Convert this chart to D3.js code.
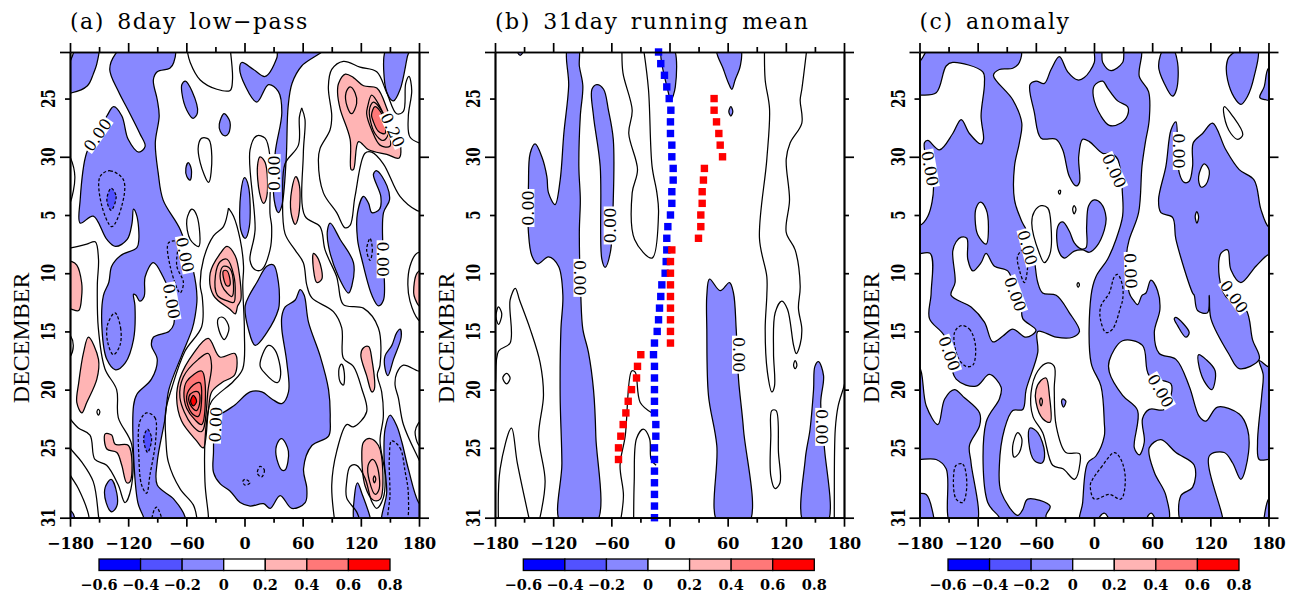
<!DOCTYPE html>
<html>
<head>
<meta charset="utf-8">
<script src="https://d3js.org/d3.v7.min.js"></script>
<style>
html, body { margin: 0; padding: 0; background: #fff; overflow: hidden; }
text { font-family: "DejaVu Serif", serif; fill: #000; }
</style>
</head>
<body>
<svg id="chart" width="1296" height="596"></svg>
<script>
//////////////////////////////////////////////////////////////
/////////////////////// Axis values //////////////////////////
//////////////////////////////////////////////////////////////

// x is longitude, y is days since 21 November (tick 31 = day 40)
var lonTicks = [-180, -120, -60, 0, 60, 120, 180];
var lonMinor = [-150, -90, -30, 30, 90, 150];
var dayMajor = [0, 9, 40];
var dayMinor = [4, 14, 19, 24, 29, 34];
var dayTicks = [4, 9, 14, 19, 24, 29, 34, 40];
var dayLabels = ["25", "30", "5", "10", "15", "20", "25", "31"];
var colorLevels = [-0.6, -0.4, -0.2, 0, 0.2, 0.4, 0.6, 0.8];
var colorBins = ["#0000ff", "#5252ff", "#8888ff", "#ffffff", "#ffb4b4", "#ff7878", "#ff0000"];
var titles = ["(a) 8day low\u2212pass", "(b) 31day running mean", "(c) anomaly"];

//////////////////////////////////////////////////////////////
/////////////////// Panel a contours [lon, day] //////////////
//////////////////////////////////////////////////////////////

var aBlue = [
  [[-186,0.9],[-181,0.9],[-172,-0.5],[-151,-0.5],[-152,0.9],[-156,1.9],[-162,2.9],[-178,3.5],[-186,3.5]],
  [[-133.4,0.2],[-123,-0.5],[-72.5,-0.5],[-73,0.9],[-77,1.4],[-90,1.7],[-94,2.4],[-90,4.1],[-88,5.5],[-92,7.8],[-89,10.4],[-84,12.7],[-66,15.3],[-53,18.7],[-49,21.1],[-51,22.7],[-54,23.8],[-65,26.1],[-78,29],[-82,31.5],[-90,35.2],[-90,37.2],[-73,38.4],[-61,40],[-61,40.5],[-104,40.5],[-104,40],[-110,38.7],[-114.5,30.4],[-111,29.4],[-96,28.1],[-90,26.4],[-96,25.2],[-94,24.5],[-78,24],[-73,23.4],[-77,20.7],[-84,19.3],[-94,18.1],[-102.5,19.3],[-103.5,21],[-108,21.4],[-112,20.9],[-114.5,20.8],[-113,21.8],[-114.5,24.7],[-123,26.7],[-133,27.3],[-142,26.4],[-147,23.8],[-145.5,20.9],[-140,19.8],[-137,18.4],[-128,17.5],[-111,16.8],[-109,16.1],[-111,14.1],[-114.5,13.5],[-116,14.7],[-121,16.1],[-133,16.7],[-142,16.1],[-156,14.1],[-169.5,14.7],[-169.5,12.7],[-163,8.7],[-152,7],[-142,5.5],[-135,4.7],[-126.5,5.5],[-120,7.5],[-109,8.6],[-102.5,8.1],[-108,7],[-120,5],[-130,3.4],[-139,1.5]],
  [[-64.6,2.8],[-61,2.5],[-54,3.4],[-48.5,5.2],[-53,5.7],[-59.5,5],[-64.6,3.5]],
  [[-26,6.2],[-21,5.3],[-15,6],[-16.5,7],[-20,7.2],[-25,6.8]],
  [[35,-0.3],[83,-0.3],[59,1.2],[49,2.7],[45,4.7],[43,9.2],[38.5,13.2],[35,13.8],[30.6,12.7],[31.6,8.7],[38.5,5.2],[35,3.4],[24.8,2.8],[12.7,4.3],[0.7,2.9],[-5,1.4],[-2.8,0.9],[9.3,1.5],[21.3,2.1],[33.4,0.5]],
  [[0,10.8],[4,11.5],[5,15],[0.7,16],[-3.8,15.3],[-3.8,12.1]],
  [[-58,9.5],[-54.8,10.1],[-56,11],[-59.5,10.7],[-60.5,10]],
  [[88.4,14.7],[98.7,16.1],[112.4,18.1],[110.7,20.1],[107.3,20.7],[97,19.3],[86.7,16.7],[85.6,15.3]],
  [[133,10.5],[136.5,10.2],[147,11.5],[149.6,12.7],[143.4,13.8],[142.7,17],[143.4,21.3],[138.2,21.8],[131.4,20.9],[121,17.8],[116.6,16.1],[116.6,13.8],[122.8,12.4],[128,13],[131.4,13.8],[139.3,13.5],[140.6,12.4]],
  [[146.8,-0.3],[170,-0.3],[168,0.4],[160.6,3.2],[153.7,4.2],[148.6,3.8],[144,2.1]],
  [[160.6,23.8],[161.6,24.5],[153.7,26.4],[147.9,27.8],[145,27.2],[145,26.1],[152,25.2],[157,24.1]],
  [[-30,30.8],[-32,34.4],[-32,36.1],[-25,37.1],[-15,37.7],[-4.5,38.7],[5.8,39],[19.6,38.8],[26.5,39.2],[36.8,38.1],[48.8,39.2],[62.6,38.7],[64.3,37.5],[60.9,35.8],[69.5,33.8],[86.7,33],[88.4,31.5],[86.7,29],[78,26.1],[66,23.2],[61.6,20.9],[57.4,20.4],[52.3,21.3],[42,21.9],[38.5,22.7],[38.5,23.8],[43.7,26.7],[45.4,29.2],[38.5,30.2],[28.2,29.8],[17.9,29.2],[5.8,29.2],[-11.3,30.4],[-26.8,31.1]],
  [[30,18.3],[35,19.8],[36,21.3],[35,22.1],[23,24.1],[11,25.2],[4,23.8],[0.7,21.8],[5,20.9],[12.7,19.8],[23,18.4]],
  [[-137.6,36.7],[-131.7,37.9],[-131.7,39],[-136.9,39.5],[-142.7,38.7],[-143.7,37.4]],
  [[116.6,37],[121,37.9],[129.6,40],[130,40.6],[114.5,40.6],[113.5,38.1]],
  [[150.1,31.2],[157,32.1],[162.3,33.5],[169,35.8],[180.5,38.8],[186,39],[186,40.6],[143,40.6],[146.7,37.8],[144,34.9],[145,32.4]],
  [[-186,39.4],[-178,39.5],[-175,40.6],[-186,40.6]]
];
var aBlueDark = [
  [[-137.6,11.7],[-132.4,12.4],[-137.6,13.6],[-142,12.7]],
  [[-100,32.4],[-95.8,33.2],[-100,34.4],[-104,33.2]]
];
var aPink = [
  [[97,2.7],[104,1.9],[112.4,2.2],[122.8,2.9],[136.5,3.1],[148.6,5.2],[158.9,7],[159.6,9.1],[146.8,8.8],[128,8.4],[117.6,7.7],[112.4,10.1],[110,10.1],[109,7.5],[98.7,4.9],[96,3.5]],
  [[16,9],[21.3,9.5],[23,12.4],[19.6,13],[15.5,12.1],[13.4,9.8]],
  [[53,10.7],[56.7,11.5],[55.7,14.1],[52.3,14.8],[48,13.8],[48.8,11.8]],
  [[71.2,17.3],[76.3,17.8],[79.8,19.5],[74.6,19.8],[71.2,18.7]],
  [[-25,17.3],[-18,16.7],[-9.6,17.5],[-5,19.3],[-3.8,21.3],[-7,21.8],[-9.6,22.5],[-15,22.1],[-32,20.9],[-35.4,19]],
  [[-186,18],[-178,18],[-173,18.3],[-168,19.8],[-168,21],[-171,22.2],[-178,22.1],[-186,21.8]],
  [[186,18.6],[178,19],[174.5,20.7],[176,21.2],[180,21.8],[186,22]],
  [[-161,24.5],[-150.6,26.4],[-152.3,28.1],[-162.7,30.1],[-167.8,31],[-173,30.1],[-171,28.4],[-166,25.8]],
  [[-143.7,32.8],[-137,32.9],[-133.4,33.7],[-119.7,33.8],[-118,36.9],[-121.5,37],[-126.6,35.5],[-131.7,34.4],[-142,34.1]],
  [[128,25.3],[122.8,25.4],[120,26],[126,27.8],[131.4,29.2],[133.8,29],[131.4,26.4]],
  [[-37.4,24.6],[-25.3,26.2],[-9.9,25.9],[-9.9,27.7],[-23.6,28.4],[-33.9,29.2],[-37.4,30.9],[-42.5,34],[-49.4,33.4],[-64.9,31.7],[-70,29.7],[-66.6,28],[-52.8,25.9]],
  [[129.6,33.2],[138.2,33.8],[142.7,36.1],[140,38.4],[133,38.5],[124.5,37.3],[121,34.4],[122.8,33.5]]
];
var aPinkDark = [
  [[131,5.4],[134.6,4.7],[141.5,5.3],[145,7],[138,6.8],[133,6]],
  [[-21.7,18.8],[-18,18.8],[-15,20],[-18,20.1],[-21.7,19.4]],
  [[-59.7,28.3],[-44.2,27.4],[-40.8,28.3],[-44.2,32],[-51,31.6],[-59.7,30.6],[-62.5,29.3]]
];
var aRed = [
  [[-52.8,29.5],[-49.4,30],[-52.8,30.4],[-55.6,30]]
];
var aHoles = [
  [[38.4,33.2],[45.3,34.3],[41.8,35.9],[38.4,35.9],[32.5,34.6],[33.9,33.6]]
];
var aLines = [
  [[-59.5,-0.3],[-56,0.9],[-45.7,2.4],[-28.5,3.2],[-14.8,3.3],[-12.4,2.4],[-14.8,-0.3]],
  [[183,7.9],[170.7,7.3],[169,5.5],[172.5,3.3],[169.7,2.1],[166.3,2.7],[163.9,5.1],[157,5.3],[146.7,3.5],[136.4,1.7],[119.2,1.3],[102,0.8],[90,1.5],[86.5,3],[90,5.5],[88.2,6.7],[77.9,8.3],[76.2,9.3],[81.4,12.1],[95.1,13.8],[103.7,15.1],[108.9,14.9],[114,12.4],[124.3,8.7],[131.2,8.6],[143.2,9.6],[160.4,12.4],[177.6,13.6],[183,13.7]],
  [[59,4.8],[56.6,5.6],[55.6,8],[41.8,9.6],[39.4,12.1],[41.8,15.6],[52.1,17],[60.7,18.1],[64.2,20],[69.3,21.1],[91.7,22.3],[100.3,23.7],[102,26.3],[112.3,27],[120.9,28.9],[126,30.9],[112.3,32.2],[105.4,32],[95.1,34.3],[90,37.2],[93.4,40.5]],
  [[59,4.8],[62.4,5.8],[60.7,8.7],[62.4,14.1],[77.9,15],[83.1,17],[95.1,19.3],[96.8,20],[102,21.7],[122.6,22],[138.1,23.7],[139.8,26.9],[137,27.7],[141.5,29.2],[143.2,31.3],[139.8,33.4],[145,36.3],[143.2,38.3],[136.4,39.2],[131.2,38.6],[124.3,36.6],[115.7,35.5],[108.9,35.6],[105.4,36.9],[105.4,38.3],[115.7,39.5],[119.9,40.5]],
  [[186,27.4],[179.3,27.4],[163.9,26.9],[157,27.6],[155.3,28.6],[158.7,29.7],[163.9,32],[179.3,34.9],[186,36]],
  [[186,17.2],[177.6,17.3],[170.7,18.4],[168.5,20],[170.7,21.4],[179.3,23],[186,23.3]],
  [[-180,31.5],[-171.4,32.3],[-159.4,32.9],[-154.3,35],[-142.2,35.5],[-130.2,37.2],[-123.3,38.7],[-117.1,37.5],[-116.4,33.7],[-130.2,31.4],[-131.9,29],[-144,27.2],[-150.8,23.7],[-151.8,20],[-150.6,17.8],[-154,16.3],[-162.7,16.5],[-178,16.8],[-186,16.9]],
  [[-186,33],[-180,34],[-168,35.2],[-156,36.9],[-150.8,39.7],[-150,40.5]],
  [[-186,35],[-180,36.3],[-171.4,37.5],[-161,39.7],[-160,40.5]],
  [[-16.5,13.4],[-11.3,14.1],[-4.5,16.1],[-1,18.4],[-1.8,20],[-0.1,24],[-1.8,27.2],[-11.6,28.3],[-33.9,30],[-39,31.7],[-40.8,36.9],[-37.4,39.7],[-37,40.5]],
  [[-16.5,13.4],[-21.7,15],[-32,15.8],[-42.3,17.8],[-45.7,20],[-43.5,21.1],[-44.2,23.6],[-61.4,25.7],[-75.2,28.9],[-81.4,30.9],[-81,33.4],[-78.6,35.2],[-66.6,37.5],[-52.8,38.9],[-49.4,39.9],[-49,40.5]],
  [[-184,24],[-180,24.3],[-176.6,25.2],[-180,26.2],[-184,26.5]],
  [[-184,8.5],[-180,9],[-175,10.7],[-180,13],[-184,13.5]],
  [[184,31.5],[179.3,31.9],[176,32.6],[179.3,33.7],[184,34]]
];
var aLoops = [
  [[-44,7.4],[-37,7.5],[-33.7,9],[-37,11.2],[-45.7,9.5],[-47.5,8]],
  [[-54.3,13.5],[-49,14.1],[-47.2,16.7],[-56,16.1],[-59.5,14.4]],
  [[12.7,7.2],[21.2,7.4],[26.3,9],[26.3,13.9],[28,15],[26.3,17],[17.7,18.7],[10.9,18.7],[5.7,17.9],[10.9,15.3],[5.7,8.4]],
  [[104.7,3.5],[108.9,3],[114,3.5],[115.7,4.4],[110.6,5.3],[106,4.7]],
  [[127,4.7],[131.2,3.7],[139.8,4.7],[146.7,6.1],[150,8.1],[139.8,8],[131.2,6.7],[126,5.3]],
  [[128.8,5],[132.9,4.3],[143.2,5.3],[148.4,7],[143.2,7.6],[134.6,7]],
  [[-30,19.2],[-25,18],[-18,17.8],[-11,19.2],[-9.6,20.7],[-11,21.5],[-17,21.4],[-28,20.9]],
  [[-25,19],[-21.7,18.4],[-15,18.6],[-11.3,20.1],[-13,21],[-18,20.7],[-23,20.1]],
  [[-37.4,25.9],[-34,26.9],[-37.4,28.9],[-44.2,32.6],[-54.6,32],[-66.6,29.7],[-63,27.9],[-47.7,26.4]],
  [[-52.8,28.6],[-46,28.4],[-44.2,29.7],[-47.7,31.3],[-54.6,31],[-59.7,29.6]],
  [[-52.8,29.2],[-47.7,29.2],[-46,30],[-49.4,30.8],[-55.2,30.4],[-57.3,29.6]],
  [[16,26.9],[24.6,25.2],[31.5,25.6],[37.3,27.7],[33.9,28.4],[21.2,27.6]],
  [[100.3,26.8],[103,27.6],[102,28.6],[98.5,28.3],[97.5,27.2]],
  [[-27,22.9],[-21.9,22.8],[-16,23.7],[-20.9,24.7],[-26.3,23.9]],
  [[-150.8,30.7],[-149.2,30.9],[-150.8,31.2],[-152.2,30.9]],
  [[132,35],[136.5,35.5],[139,37.5],[135,38],[129,36.9],[127.5,35.5]],
  [[134,36.4],[135.4,36.7],[134,37],[132.8,36.7]]
];
var aDashed = [
  [[-149,10.7],[-138.7,10.2],[-124.8,11],[-126.5,13.2],[-136.9,15],[-147.2,13.2]],
  [[-78.4,16.4],[-69.8,16.3],[-69.8,18.4],[-63,19.8],[-66.4,20.7],[-76.7,18.4]],
  [[129.5,16],[131.9,17],[129.5,17.9],[126,17]],
  [[-133.6,22.4],[-127.8,23.7],[-128.5,25.2],[-135.3,26],[-141.2,24.9],[-141.2,23.4]],
  [[-101,31],[-92.4,31.4],[-91.7,33.4],[-97.5,36.3],[-101,37.9],[-106.1,37.2],[-108.9,34.9],[-107.8,31.7]],
  [[-90.6,39.1],[-85.5,40],[-84,40.6],[-95,40.6],[-93,39.3]],
  [[0.6,36.7],[5.7,37],[0.6,37.2],[-1.8,36.9]],
  [[16,35.6],[20.5,35.9],[17.7,36.5],[13.3,36.2]],
  [[151.8,33.4],[160.4,34],[165.6,36],[169,38],[165.6,40.6],[149.4,40.6],[150.1,38],[149.4,34.9]]
];
var aLabels = [
  [-151.7, 7.1, -55, "0.00"], [30.6, 10.4, -90, "0.00"], [-61.2, 17.4, 78, "0.00"],
  [-75, 21.4, 80, "0.00"], [143, 17.8, 90, "0.00"], [153, 6.7, 65, "0.20"], [-30, 32, -87, "0.00"]
];

//////////////////////////////////////////////////////////////
/////////////////// Panel b contours [lon, day] //////////////
//////////////////////////////////////////////////////////////

var bBlue = [
  [[-158,-0.3],[-154,0.3],[-150,-0.3]],
  [[-105,-0.3],[-94,-0.3],[-93,1.2],[-89.4,2.9],[-92,5.5],[-93.5,9.8],[-92,12.7],[-93,15.5],[-91.5,20.9],[-89.4,23.8],[-83.6,25.8],[-78.4,29],[-76,33],[-76,40.5],[-111.8,40.5],[-111,35.3],[-112.8,29.5],[-112,23.8],[-110,20.9],[-114.5,18.4],[-124.8,17.6],[-136,18.2],[-142,17.5],[-145.5,15.5],[-145.5,11.5],[-143.7,8.7],[-138.6,7.9],[-131.7,9],[-126.5,10.7],[-124.8,12.1],[-118,13.1],[-112.8,11],[-109,7],[-104,2.9]],
  [[-80,3.2],[-75,2.8],[-68,3.2],[-63,5],[-58,7.5],[-58,12.7],[-61,17.2],[-66.4,18.5],[-69.8,17.8],[-71.5,9.8],[-78.4,5.5]],
  [[-8,-0.3],[4,-0.3],[6,3],[1.5,4.1],[-2,3.2]],
  [[48.8,-0.3],[73,-0.3],[73,1.2],[67.7,2.4],[64.3,3.2],[61,2.7],[55.7,1.5]],
  [[63.3,4.7],[65.3,5.1],[63.3,5.5],[61.2,5.1]],
  [[41.3,19.5],[52.3,20.5],[61.9,19.8],[66,20.7],[68.8,23.8],[71.2,28.1],[76.3,32.4],[81.5,40.5],[50.5,40.5],[48.8,33.8],[40.2,29.5],[38.5,23.8],[38.5,20.9]],
  [[153.7,26.6],[158.9,27.8],[156,30.1],[159.6,33.8],[162.3,40.5],[139,40.5],[140,35],[145,32.4],[148.6,29],[150,27]]
];
var bLines = [
  [[-49,-0.3],[-48,1.8],[-38.5,5],[-42,7],[-33,10.1],[-38.5,12.1],[-36,16.1],[-18,17.7],[-11.3,13.8],[-13,12.1],[-18,9.8],[-21.7,3.2],[-26.8,-0.3]],
  [[141.7,-0.3],[136.5,3.2],[134.8,4.1],[136.5,6.1],[124.5,7.8],[120.4,9.2],[123.8,12.7],[120.4,15.5],[129.6,17],[134.8,20.1],[133,22],[136.5,23.8],[134.8,25.1],[130.7,25.9],[128,25.2],[121.7,22.1],[115.9,21.4],[109,22.4],[107.3,25.8],[108.3,28.7],[105.6,29.2],[101,27.5],[98.7,23.8],[100.4,20.9],[100.4,19.3],[92.8,16],[100.4,9.2],[103.2,4.9],[98.7,2.4],[98,-0.3]],
  [[170,40.5],[170,38.7],[171,32.4],[174,30.4],[180,28.7],[183,27.5]],
  [[-182,29],[-180,28.7],[-176.4,25.7],[-164.4,25],[-164.4,21.3],[-159,20.3],[-154.7,21.3],[-143.7,23.8],[-133.4,26.7],[-130,29.5],[-135,33],[-128.3,36.9],[-135,40.5]],
  [[-176.4,40.5],[-174.7,35.8],[-163,32.3],[-157,35.3],[-143.7,40.5]],
  [[-51,40.5],[-47.5,38.1],[-51,35.5],[-45.7,33],[-39,27.4],[-35.4,27.5],[-30.2,30.1],[-18,31]],
  [[-37,40.5],[-36.4,36.9],[-34,33.2],[-27,32.4],[-20.6,33.2],[-18.9,35],[-13.8,35.5]]
];
var bLoops = [
  [[105.5,30.8],[110,30.8],[112.4,34.4],[114,37],[109,37.5],[104.5,36.4],[104.5,33]],
  [[129.6,26.5],[131.4,26.9],[129.6,27.2],[128,26.9]],
  [[-176.4,21.9],[-173,22.5],[-176.4,23.4],[-179,22.7]],
  [[-168,27.6],[-164.4,28],[-168,28.5],[-172,28]]
];
var bLabels = [
  [-146, 13.4, -90, "0.00"], [-61.2, 14.9, -90, "0.00"], [-92.4, 19.4, 90, "0.00"],
  [71.2, 26, 90, "0.00"], [157, 32.2, 90, "0.00"]
];
// daily position of the two tracks in panel b
var blueDay = [0,1,2,3,4,5,6,7,8,9,10,11,12,13,14,15,16,17,18,19,20,21,22,23,24,25,26,27,28,29,30,31,32,33,34,35,36,37,38,39,40];
var blueLon = [-11.3,-9,-5.2,-2.8,-0.3,1.4,1,1,2.4,2.4,3.8,3.8,2.4,2.4,1,-1.7,-2.8,-2.8,-3.4,-4.5,-7.9,-9,-10.3,-11.3,-12.7,-15.5,-16.5,-15.5,-15.5,-15.5,-15.5,-15.5,-14.1,-14.1,-15.5,-15.5,-15.5,-15.5,-15.5,-15.5,-15.5];
var redDay = [4,5,6,7,8,9,10,11,12,13,14,15,16,17,18,19,20,21,22,23,24,25,26,27,28,29,30,31,32,33,34,35];
var redLon = [46,46,48.5,50.9,52.3,54.7,36,35,33.7,33.7,32.3,32.3,29.9,2.4,1,1,1,1,1,1,1,1,-29.6,-33,-34,-39.2,-42.6,-45,-47.8,-50.2,-52.6,-52.6];

//////////////////////////////////////////////////////////////
/////////////////// Panel c contours [lon, day] //////////////
//////////////////////////////////////////////////////////////

var cBlue = [
  [[-186,3.7],[-180,3.7],[-162.8,3.5],[-152.5,1.2],[-145.7,0.9],[-114.7,1.7],[-113,2.7],[-116.5,5.5],[-114,7.5],[-116.5,7.9],[-128.5,7],[-137,5.8],[-145.7,7],[-159.4,8.4],[-171.4,7.6],[-174.9,7.8],[-171.4,9.8],[-165.6,11.5],[-171.4,14.1],[-180,14.9],[-186,14.9],[-186,17.3],[-169,17.3],[-168,20.7],[-169.7,22.9],[-154.2,24.4],[-142.2,28.1],[-121.6,28.7],[-107.9,27.7],[-95.8,28.8],[-97.6,29.8],[-111.3,31.8],[-109.6,38.7],[-97.6,40],[-97.6,40.6],[-49.5,40.6],[-49.5,39.8],[-45.3,39],[-68.4,38.4],[-73.5,39.3],[-78.7,39.8],[-95.8,37.8],[-97.6,35.5],[-92.4,32.4],[-83.8,30.8],[-73.5,30.7],[-70,29],[-58,25.8],[-58,24],[-39,24.5],[-22,24.5],[-15,24],[-25.4,22.4],[-39,20.9],[-53,20.7],[-58,19.8],[-61.5,17.8],[-65,16.1],[-75.2,14.4],[-82,12.7],[-82,9.8],[-77,7.8],[-74.5,6.1],[-83.8,4.1],[-103.7,2],[-97.6,1.5],[-83.8,1.4],[-77,0.9],[-76.3,-0.3],[-171.4,-0.3],[-174.9,0.2],[-180,0.8],[-186,0.8]],
  [[-66,2.8],[-59.8,2.5],[-51.2,2.7],[-44.3,1.5],[-35.7,0.4],[-27.1,1.7],[-16.8,2.4],[-10,2.2],[0.3,0.9],[1,-0.3],[7.2,-0.3],[9,0.9],[17.5,1.6],[29.5,0.9],[32.3,-0.3],[48.4,-0.3],[46.7,2.1],[56.3,3.4],[57,5.8],[52.9,7.8],[49.5,9.8],[46,13.8],[36.4,16.1],[33.7,17.3],[36.4,20.7],[40.5,21.3],[45,21.7],[49.5,20.9],[53.6,20.7],[58.7,19.6],[65.6,20.5],[68,22.1],[62.2,24.1],[67.3,25.9],[84.5,26.4],[98.2,28.7],[108.6,31.3],[115.4,31.7],[127.4,30.5],[149.8,31.1],[158.4,32.4],[159.4,34.4],[151.5,36.7],[143,35.3],[134.3,34.4],[118.9,34.7],[132.6,40],[132.6,40.6],[91.4,40.6],[89.7,38.1],[101.7,37.4],[103.4,35.5],[84.5,34.4],[69,33.3],[57,34],[62.2,36.1],[74.2,38.1],[74.9,40.6],[-13.4,40.6],[-11.7,38.7],[-6.5,35.3],[2,34.7],[10.6,33],[10.6,31.8],[7.2,28.7],[-3,26.7],[-3,20.9],[2,19.3],[14,17.8],[22.7,16.1],[29.5,14.1],[29.5,12.4],[24.4,9.2],[17.5,8.7],[9,8.7],[-4.8,7.7],[-11.7,7.5],[-15.8,9],[-15,11.2],[-18.6,11.5],[-25.4,10.7],[-32.3,8.4],[-39.2,7.5],[-54.6,7.4],[-61.5,5.2]],
  [[84.5,6],[86.2,8.4],[88,10.4],[93,11.2],[98.2,11.1],[101.7,9.8],[102.4,7.8],[112,7],[122.3,6.1],[136,8.4],[149.8,10.1],[165.2,11],[172.1,13.5],[180,15],[186,15],[186,17.4],[180,17.4],[167,18.4],[151.5,19.8],[141.2,18.7],[137.8,17],[130.9,17.3],[129.2,19.3],[136,21],[156.6,22.1],[163.5,24.7],[170.4,26.4],[149.8,27.2],[139.5,26],[120.6,22.9],[118.9,20.9],[117.1,22.4],[106.8,22.2],[103.4,20.9],[101.7,20.7],[84.5,16.1],[81,14.2],[69,13.8],[66.6,12.7],[74.2,9.8],[79.4,6.7]],
  [[72.5,-0.3],[81,-0.3],[86.2,0.9],[85.2,3.2],[81,3.8],[72.5,2.7],[66.6,1.2]],
  [[139.5,0.4],[153.5,-0.3],[168.7,-0.3],[165.2,2.1],[158.4,3.8],[151.5,4.5],[144.6,3.9],[137.8,2.4],[136.7,1.1]],
  [[186,1.4],[180,1.4],[175.5,3],[171,3.9],[176.6,4.1],[186,4.1]],
  [[170.4,26.5],[179,27],[186,27.2],[186,35],[180,35],[170.4,35],[168.7,33.5],[173,29.5],[174.5,27.7]],
  [[186,38],[180,38.4],[175.5,40],[175,40.6],[186,40.6]],
  [[-186,37.9],[-180,37.9],[-173,38],[-167,39.3],[-166,40.6],[-186,40.6]],
  [[-186,27.1],[-180,27.1],[-173,30.4],[-161,32],[-154,29.8],[-144,29],[-133.6,29.7],[-118,31],[-118,32.1],[-128.5,33.8],[-126.8,35.3],[-121.6,40.6],[-147.4,40.6],[-152.5,35.8],[-162.8,35],[-180,35],[-186,35]],
  [[-66,32.3],[-58,32.7],[-51,34.4],[-53.6,35.3],[-61.5,35.1],[-67.3,33.5]],
  [[-37.4,15],[-32.3,14.6],[-25.4,15.4],[-20.3,16.4],[-13.4,16.9],[-8.2,16.8],[-7.6,15],[-5.5,13.2],[0.3,12.7],[7.2,13],[12.4,14.2],[10.6,15.3],[2.7,16.7],[-4.8,17.2],[-11.7,17],[-20.3,17.1],[-30.6,17.7],[-36.4,17.1]],
  [[84.5,22.8],[98.2,24.1],[94.8,24.5],[86.2,23.5],[82.8,22.9]],
  [[107.9,26],[115.4,26.4],[125,27.4],[121.6,29],[115.4,28.5],[108.6,27.1]],
  [[-32,29.8],[-29,30],[-31.5,30.5],[-33.5,30]]
];
var cHoles = [
  [[-145.7,17.1],[-142.2,16.3],[-137,15.9],[-131.2,16],[-130.2,17.8],[-125,18.8],[-116.5,18.1],[-111.3,17.3],[-102.7,18.4],[-89,18.8],[-80.4,20.7],[-75.2,21.8],[-73.5,22.9],[-59.8,23.9],[-70,24.5],[-83.8,23.8],[-94,24.4],[-104.4,24.9],[-113,23.2],[-126.8,21.9],[-147.4,20.9],[-143.3,19.8]],
  [[-117,12.9],[-111.3,13.5],[-108.9,15],[-111.3,16.5],[-119.9,15.7],[-122.6,14.4],[-121.6,13.4]],
  [[9,2.5],[14,3.1],[24.4,4.2],[34.7,4.7],[34.7,5.4],[27.8,6.1],[15.8,6.3],[7.2,5.5],[-0.7,3.8],[0.3,2.9]],
  [[15.8,26.5],[29.5,24.8],[50,25.2],[57,27.8],[79.4,28.5],[79.4,29.5],[72.5,30.7],[57,30.7],[50,31.5],[51.9,33.5],[46.7,34.6],[41.6,34],[45,30.8],[29.5,29.5],[15.8,27.5]],
  [[113.7,9.6],[118.9,10.2],[115.4,11.4],[110.3,11.6],[107.9,10.7]],
  [[106.1,13.7],[107.9,14.2],[106.1,14.7],[104.4,14.1]],
  [[53.6,40.8],[56,39.8],[59,39.6],[62,39.9],[64,40.8]],
  [[2,40.8],[6,39.9],[10.6,39.6],[14,39.9],[16,40.8]]
];
var cPink = [
  [[-54.6,28.2],[-49.5,28],[-46,29.5],[-45.3,31.8],[-52.9,31.5],[-59.8,30.1],[-59.8,29]]
];
var cLoops = [
  [[-47.7,26.7],[-41,27],[-41,29],[-39,32.1],[-29,34.4],[-15,34.5],[-14.4,35.3],[-20,36.7],[-32,35.8],[-42.6,35.5],[-52.9,32.7],[-63,31.3],[-65,29.3],[-58,27.4]],
  [[-54.6,13.2],[-47.7,13.4],[-44.3,15],[-45.3,17.3],[-51.2,18.1],[-56.3,17.3],[-64.2,14.7],[-61.5,13.7]],
  [[134.3,4.7],[143,5.5],[153.5,7.1],[148.4,7.5],[141.2,7],[134.3,5.5]],
  [[-83.8,33.8],[-78.7,32.7],[-74.5,33.2],[-77,34.4],[-82.5,34.8]],
  [[-54.6,29.7],[-53.2,30],[-54.6,30.4],[-56,30]],
  [[-36,11.9],[-34.5,11.9],[-35.2,12.2],[-36.6,12.1]],
  [[-20.5,13.2],[-18.6,13.5],[-20.5,13.9],[-22,13.5]],
  [[-16.3,19.8],[-15,20],[-16.3,20.2],[-17.5,20]]
];
var cDashed = [
  [[24.4,19.1],[29.5,20.1],[29.5,21.3],[27.8,21.8],[19.2,23.8],[12.4,24.1],[6.5,22.9],[7.2,21.8],[15.8,20.7],[21,19.3]],
  [[-137,23.5],[-128.5,23.8],[-122.3,25.2],[-125,26.9],[-131.9,27],[-140.5,26.2],[-143.9,24.1]],
  [[-142.2,35.5],[-135.4,35.4],[-131.2,37.2],[-135.4,38.7],[-142.2,38.4],[-145,36.7]],
  [[-1.4,36.7],[7.2,35.7],[21,34.4],[27.8,35],[32.3,36.7],[27.8,38.4],[15.8,38],[0.3,38.4],[-3.8,37.2]],
  [[-78.7,17.5],[-70,16.8],[-68.4,18.4],[-71.8,19.8],[-77,18.7]]
];
var cLabels = [
  [-169, 10, 80, "0.00"], [21, 10.2, 65, "0.00"], [88, 8.5, 90, "0.00"], [38, 18.8, 88, "0.00"],
  [-68.4, 16.8, 75, "0.00"], [-81, 20.8, 70, "0.00"], [-149, 25.9, 70, "0.00"],
  [69, 29.1, 60, "0.00"], [144.6, 21, 55, "0.00"]
];

//////////////////////////////////////////////////////////////
//////////////////////// Scales //////////////////////////////
//////////////////////////////////////////////////////////////

var panelWidth = 349;
var panelTop = 52;
var panelBottom = 517.7;
var panelLeft = [70, 495, 919.5];
var barLeft = [99, 523.3, 948];
var barWidth = 291;

var xScale = d3.scaleLinear().domain([-180, 180]).range([0, panelWidth]);
var yScale = d3.scaleLinear().domain([0, 40]).range([0, panelBottom - panelTop]);
var barScale = d3.scaleLinear().domain([-0.6, 0.8]).range([0, barWidth]);

var closedLine = d3.line()
    .x(function(d) { return xScale(d[0]); })
    .y(function(d) { return yScale(d[1]); })
    .curve(d3.curveCatmullRomClosed.alpha(0.5));

var openLine = d3.line()
    .x(function(d) { return xScale(d[0]); })
    .y(function(d) { return yScale(d[1]); })
    .curve(d3.curveCatmullRom.alpha(0.5));

var svg = d3.select("#chart");

svg.append("defs").append("clipPath")
    .attr("id", "clipPanel")
    .append("rect")
        .attr("width", panelWidth)
        .attr("height", panelBottom - panelTop);

//////////////////////////////////////////////////////////////
//////////////////////// Panels //////////////////////////////
//////////////////////////////////////////////////////////////

function drawRings(parent, rings, fill, dash) {
    parent.selectAll(null)
        .data(rings).enter()
        .append("path")
            .attr("d", closedLine)
            .attr("fill", fill)
            .attr("stroke", "#000")
            .attr("stroke-width", 1.25)
            .attr("stroke-dasharray", dash || null);
}

function drawPanel(i, layers) {
    var panel = svg.append("g")
        .attr("transform", "translate(" + panelLeft[i] + "," + panelTop + ")");

    var inner = panel.append("g").attr("clip-path", "url(#clipPanel)");

    drawRings(inner, layers.blue || [], colorBins[2]);
    drawRings(inner, layers.blueDark || [], colorBins[1], "3,2");
    drawRings(inner, layers.holes || [], "#fff");
    drawRings(inner, layers.pink || [], colorBins[4]);
    drawRings(inner, layers.pinkDark || [], colorBins[5]);
    drawRings(inner, layers.red || [], colorBins[6]);

    inner.selectAll(".contourLine")
        .data(layers.lines || []).enter()
        .append("path")
            .attr("d", openLine)
            .attr("fill", "none")
            .attr("stroke", "#000")
            .attr("stroke-width", 1.25);

    drawRings(inner, layers.loops || [], "none");
    drawRings(inner, layers.dashed || [], "none", "3,2");

    //Contour labels sit on a white box
    var labels = inner.selectAll(".contourLabel")
        .data(layers.labels || []).enter()
        .append("g")
            .attr("transform", function(d) {
                return "translate(" + xScale(d[0]) + "," + yScale(d[1]) + ") rotate(" + d[2] + ")";
            });
    labels.append("rect")
        .attr("x", -19).attr("y", -6.5)
        .attr("width", 38).attr("height", 13)
        .attr("fill", "#fff");
    labels.append("text")
        .attr("text-anchor", "middle")
        .attr("dy", "0.37em")
        .style("font-size", "16px")
        .text(function(d) { return d[3]; });

    //Tracks only exist in panel b
    if (layers.tracks) {
        layers.tracks.forEach(function(track) {
            panel.selectAll(null)
                .data(track.day).enter()
                .append("rect")
                    .attr("x", function(d, j) { return xScale(track.lon[j]) - 3.7; })
                    .attr("y", function(d) { return yScale(d) - 3.7; })
                    .attr("width", 7.4)
                    .attr("height", 7.4)
                    .attr("fill", track.color);
        });
    }

    //Axes
    var axisTop = d3.axisTop(xScale).tickValues(lonTicks).tickSize(9).tickFormat("");
    var axisTopMinor = d3.axisTop(xScale).tickValues(lonMinor).tickSize(5).tickFormat("");
    var axisBottom = d3.axisBottom(xScale).tickValues(lonTicks).tickSize(9).tickPadding(10.5)
        .tickFormat(function(d) { return d < 0 ? "\u2212" + (-d) : d; });
    var axisBottomMinor = d3.axisBottom(xScale).tickValues(lonMinor).tickSize(5).tickFormat("");
    var axisLeft = d3.axisLeft(yScale).tickValues(dayMajor).tickSize(10).tickFormat("");
    var axisLeftMinor = d3.axisLeft(yScale).tickValues(dayMinor).tickSize(5).tickFormat("");
    var axisRight = d3.axisRight(yScale).tickValues(dayMajor).tickSize(10).tickFormat("");
    var axisRightMinor = d3.axisRight(yScale).tickValues(dayMinor).tickSize(5).tickFormat("");
    var height = panelBottom - panelTop;

    [[axisTop, 0, 0], [axisTopMinor, 0, 0], [axisBottom, 0, height], [axisBottomMinor, 0, height],
     [axisLeft, 0, 0], [axisLeftMinor, 0, 0], [axisRight, panelWidth, 0], [axisRightMinor, panelWidth, 0]]
        .forEach(function(a) {
            var g = panel.append("g")
                .attr("transform", "translate(" + a[1] + "," + a[2] + ")")
                .call(a[0].tickSizeOuter(0));
            g.selectAll("path, line").attr("stroke", "#000").attr("stroke-width", 1.7);
            g.selectAll("text")
                .style("font-size", "16px")
                .style("font-weight", "bold")
                .style("font-family", "'DejaVu Serif', serif");
        });

    //Day labels are rotated along the left axis, squeezed along the text
    panel.selectAll(".dayLabel")
        .data(dayTicks).enter()
        .append("text")
            .attr("transform", function(d) { return "translate(-15," + yScale(d) + ") rotate(-90) scale(0.75,1)"; })
            .attr("text-anchor", "middle")
            .style("font-size", "18px")
            .style("font-weight", "bold")
            .text(function(d, j) { return dayLabels[j]; });

    panel.append("text")
        .attr("transform", "translate(-41," + yScale(24.55) + ") rotate(-90)")
        .attr("text-anchor", "middle")
        .style("font-family", "'Liberation Serif', serif")
        .style("font-size", "24px")
        .text("DECEMBER");

    panel.append("text")
        .attr("x", 0).attr("y", -23)
        .style("font-size", "22px")
        .style("letter-spacing", "1.5px")
        .style("word-spacing", "4px")
        .text(titles[i]);

    //Colour bar
    var bar = svg.append("g")
        .attr("transform", "translate(" + barLeft[i] + ",559)");
    bar.selectAll("rect")
        .data(colorBins).enter()
        .append("rect")
            .attr("x", function(d, j) { return barScale(colorLevels[j]); })
            .attr("y", 0)
            .attr("width", function(d, j) { return barScale(colorLevels[j + 1]) - barScale(colorLevels[j]); })
            .attr("height", 11.5)
            .attr("fill", function(d) { return d; })
            .attr("stroke", "#000")
            .attr("stroke-width", 1.3);
    bar.selectAll("text")
        .data(colorLevels).enter()
        .append("text")
            .attr("x", function(d) { return barScale(d); })
            .attr("y", 31)
            .attr("text-anchor", "middle")
            .style("font-size", "14.5px")
            .style("font-weight", "bold")
            .text(function(d) { return d < 0 ? "\u2212" + (-d) : d; });
}

drawPanel(0, {blue: aBlue, blueDark: aBlueDark, pink: aPink, pinkDark: aPinkDark, red: aRed, holes: aHoles,
    lines: aLines, loops: aLoops, dashed: aDashed, labels: aLabels});
drawPanel(1, {blue: bBlue, lines: bLines, loops: bLoops, labels: bLabels,
    tracks: [{day: blueDay, lon: blueLon, color: "#0000ff"}, {day: redDay, lon: redLon, color: "#ff0000"}]});
drawPanel(2, {blue: cBlue, holes: cHoles, pink: cPink, loops: cLoops, dashed: cDashed, labels: cLabels});
</script>
</body>
</html>
